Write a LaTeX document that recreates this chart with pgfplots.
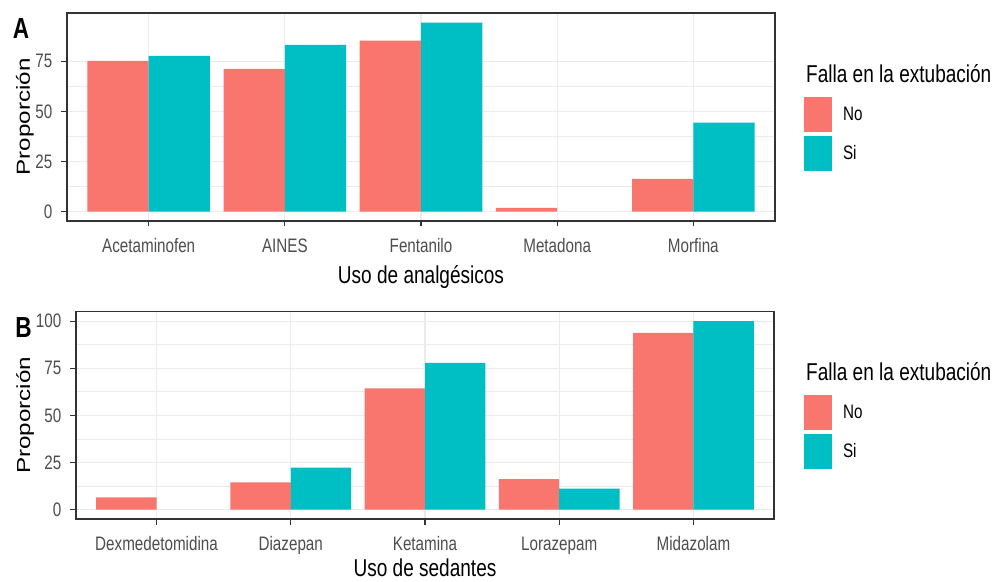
\documentclass[border=0pt]{standalone}
\usepackage{pgfplots}
\pgfplotsset{compat=1.18}
\usepackage{graphicx}
\usepackage{fontspec}
\setmainfont{Liberation Sans}[FakeStretch=0.78]
\newfontfamily\uprightsans{Liberation Sans}

\definecolor{cNo}{HTML}{F8766D}
\definecolor{cSi}{HTML}{00BFC4}
\definecolor{gridgrey}{HTML}{EBEBEB}
\definecolor{framegrey}{HTML}{333333}
\definecolor{tickgrey}{HTML}{4D4D4D}

% Proportions (%) by extubation failure
\pgfplotstableread{
x No   Si
1 75.3 77.8
2 71.2 83.3
3 85.4 94.4
4 1.8  0
5 16.3 44.4
}\analgesicos
\pgfplotstableread{
x No   Si
1 6.5  0
2 14.4 22.2
3 64.3 77.8
4 16.2 11.1
5 93.7 100
}\sedantes

\newcommand{\ticksize}{\fontsize{19.5}{22}\selectfont}
\newcommand{\titlesize}{\fontsize{24.4}{28}\selectfont}
% rotated axis title: glyphs squeezed across the text line
\newcommand{\ytitle}[1]{\scalebox{1}[0.78]{\uprightsans\fontsize{24.2}{28}\selectfont #1}}

\pgfplotsset{
  panel/.style={
    scale only axis,
    xmin=0.4, xmax=5.6,
    xtick={1,2,3,4,5},
    tick align=outside,
    xtick pos=bottom, ytick pos=left,
    major tick length=5.5pt,
    minor tick length=0pt,
    every tick/.style={framegrey, line width=1.1pt},
    axis line style={framegrey, line width=1.3pt},
    xmajorgrids=true, ymajorgrids=true, yminorgrids=true,
    minor y tick num=1,
    major grid style={gridgrey, line width=1.2pt},
    minor grid style={gridgrey, line width=0.6pt},
    tick label style={text=tickgrey, inner sep=0pt},
    xticklabel style={font=\ticksize, yshift=-12pt},
    yticklabel style={font=\ticksize, xshift=-9pt},
    label style={font=\titlesize, inner sep=0pt},
    legend style={draw=none, fill=none, inner sep=0pt, outer sep=0pt,
      anchor=north west, row sep=3.5pt, font=\ticksize,
      cells={anchor=west}, nodes={inner sep=0pt},
      /tikz/every odd column/.append style={column sep=11pt}},
    legend cell align=left,
    % empty groups (0 %) draw no bar at all
    restrict y to domain=0.001:1000,
    unbounded coords=discard,
  },
  barNo/.style={ybar, fill=cNo, draw=none, bar width=0.45, bar shift=-0.225,
    legend image code/.code={\fill[cNo] (0pt,-17.5pt) rectangle (28pt,17.5pt);}},
  barSi/.style={ybar, fill=cSi, draw=none, bar width=0.45, bar shift=0.225,
    legend image code/.code={\fill[cSi] (0pt,-17.5pt) rectangle (28pt,17.5pt);}},
}

\begin{document}
\begin{tikzpicture}[x=1pt,y=1pt]

% Panel A: analgesics
\begin{axis}[panel,
  at={(67pt,360pt)}, anchor=south west,
  width=708pt, height=208pt,
  ymin=-4.72, ymax=99.17,
  ytick={0,25,50,75}, yticklabels={0,25,50,75},
  xticklabels={Acetaminofen,AINES,Fentanilo,Metadona,Morfina},
  xlabel={Uso de analgésicos},
  xlabel style={at={(axis description cs:0.5,0)}, anchor=base, yshift=-63pt},
  ylabel={\ytitle{Proporción}},
  ylabel style={at={(axis description cs:-0.0523,0.5)}, anchor=base},
  legend style={at={(axis description cs:1.041,0.596)}},
]
\addplot[barNo] table[x=x, y=No] {\analgesicos};
\addlegendentry{No}
\addplot[barSi] table[x=x, y=Si] {\analgesicos};
\addlegendentry{Si}
\end{axis}

% Panel B: sedatives
\begin{axis}[panel,
  at={(76pt,62pt)}, anchor=south west,
  width=698pt, height=207.3pt,
  ymin=-5, ymax=105,
  ytick={0,25,50,75,100}, yticklabels={0,25,50,75,100},
  xticklabels={Dexmedetomidina,Diazepan,Ketamina,Lorazepam,Midazolam},
  xlabel={Uso de sedantes},
  xlabel style={at={(axis description cs:0.5,0)}, anchor=base, yshift=-57.5pt},
  ylabel={\ytitle{Proporción}},
  ylabel style={at={(axis description cs:-0.0659,0.5)}, anchor=base},
  legend style={at={(axis description cs:1.043,0.598)}},
]
\addplot[barNo] table[x=x, y=No] {\sedantes};
\addlegendentry{No}
\addplot[barSi] table[x=x, y=Si] {\sedantes};
\addlegendentry{Si}
\end{axis}

% Legend titles and panel tags
\node[anchor=base west, inner sep=0pt, font=\titlesize] at (806pt,498pt) {Falla en la extubación};
\node[anchor=base west, inner sep=0pt, font=\titlesize] at (806pt,200pt) {Falla en la extubación};
\node[inner sep=0pt, font=\fontsize{29}{32}\bfseries\selectfont] at (21pt,552pt) {A};
\node[inner sep=0pt, font=\fontsize{29}{32}\bfseries\selectfont] at (23.5pt,253.5pt) {B};

\pgfresetboundingbox
\path[use as bounding box] (0pt,0pt) rectangle (992pt,581pt);
\end{tikzpicture}
\end{document}
